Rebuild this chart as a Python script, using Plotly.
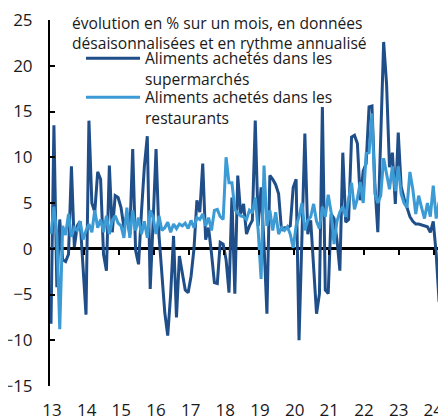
import plotly.graph_objects as go

# --- data (monthly, Jan 2013 -> Mar 2024), % m/m annualised, SA ---
supermarches = [
    -8.2, 13.5, -4.2, 3.2, -1.2, -1.4, -0.6, 9.0, 0.2, 2.5, 3.0, -2.0,      # 2013
    -7.2, 14.0, 5.0, 4.0, 8.4, 7.6, -0.6, -2.4, 9.1, 1.8, 5.8, 5.6,        # 2014
    4.5, 2.3, 3.7, 1.5, 10.9, -0.2, -1.7, 4.0, 9.0, 12.3, -4.4, 3.0,       # 2015
    10.9, 1.5, -3.0, -7.0, -9.5, -5.0, 1.4, -7.5, -0.8, -2.5, -4.5, -4.8,  # 2016
    -3.0, 0.0, 5.3, 4.0, 9.3, 1.0, 2.3, -0.5, -3.7, -3.8, 0.7, 0.5,        # 2017
    -1.2, -4.8, 5.6, -4.9, 8.0, 3.8, 4.9, 1.6, 2.5, 3.1, 14.0, 2.5,        # 2018
    6.7, 0.5, -7.1, 8.0, 7.6, 7.0, 6.0, 2.0, 2.3, 2.3, 2.5, 6.7,           # 2019
    7.6, -10.0, 1.0, 12.6, 1.6, 3.1, -2.0, -7.1, -4.9, 15.5, -4.5, -4.9,   # 2020
    3.8, 3.3, 1.0, -2.4, 10.5, 2.9, 3.2, 12.2, 12.4, 11.5, 5.3, 8.5,       # 2021
    9.3, 15.5, 15.6, 7.0, 1.8, 12.0, 22.6, 18.0, 8.9, 10.5, 4.9, 12.7,     # 2022
    6.8, 5.5, 4.5, 3.5, 3.0, 2.7, 2.7, 2.6, 2.5, 2.4, 1.8, 3.0,            # 2023
    -0.5, -5.8, -2.6,                                                      # 2024
]
restaurants = [
    1.6, 4.6, 1.5, -8.8, 2.5, 1.5, 3.8, 1.3, 2.3, 2.0, 3.0, 1.0,           # 2013
    2.0, 2.7, 1.8, 4.2, 2.3, 3.2, 1.8, 3.6, 1.6, 3.1, 3.6, 2.8,            # 2014
    2.5, 1.2, 4.5, 1.2, 4.2, 2.0, 3.4, 1.6, 3.0, 1.2, 4.2, 3.4,            # 2015
    1.6, 3.6, 2.0, 2.3, 2.9, 1.8, 2.7, 2.2, 2.7, 2.5, 2.8, 2.2,            # 2016
    3.1, 2.3, 3.4, 3.2, 3.8, 2.5, 3.4, 2.0, 4.2, 4.3, 3.5, 3.2,            # 2017
    10.0, 7.2, 7.2, 4.3, 3.9, 3.6, 3.5, 3.2, 4.2, 3.9, 5.6, 2.0,           # 2018
    -3.3, 9.1, 2.5, 4.2, 2.0, 4.0, 1.6, 2.3, 2.0, 2.4, 1.6, 0.1,           # 2019
    2.5, 3.5, 5.0, 2.0, 3.1, 3.5, 4.9, 3.0, 2.2, 4.6, 3.5, 5.9,            # 2020
    4.0, 0.5, 3.0, 4.0, 4.6, 3.5, 5.5, 7.2, 4.3, 5.5, 7.3, 5.0,            # 2021
    10.4, 10.5, 14.8, 6.0, 5.0, 5.8, 9.9, 8.0, 6.5, 9.0, 6.3, 9.0,         # 2022
    6.0, 5.0, 4.5, 8.4, 6.5, 3.8, 5.8, 4.5, 3.3, 5.0, 3.5, 6.9,            # 2023
    3.3, 5.1, 4.0,                                                         # 2024
]
months = list(range(len(supermarches)))
year_labels = ["13", "14", "15", "16", "17", "18", "19", "20", "21", "22", "23", "24"]

DARK = "#1f4e89"
LIGHT = "#3c9ad5"
FONT = "Open Sans"
TXT = "#1a1a1a"

label_pos = [0.34 + 11.88 * k for k in range(len(year_labels))]
tick_pos = [12 * k - 0.7 for k in range(1, len(year_labels))]
x_range = [-0.343, 134.34]

# the page body adds an 8px offset; target positions below are window pixels
OFF = 8
PL, PT, PW, PH = 50, 20, 393, 366   # plot box in window pixels


def px_x(p):
    return (p - PL) / PW


def px_y(p):
    return 1 - (p - PT) / PH


fig = go.Figure()
fig.add_trace(go.Scatter(
    x=months, y=supermarches, mode="lines",
    name="Aliments achetés dans les<br>supermarchés", legend="legend",
    line=dict(color=DARK, width=3), hoverinfo="skip"))
fig.add_trace(go.Scatter(
    x=months, y=restaurants, mode="lines",
    name="Aliments achetés dans les<br>restaurants", legend="legend2",
    line=dict(color=LIGHT, width=3), hoverinfo="skip"))
# helper trace so the tick-mark axis on the zero line is drawn
fig.add_trace(go.Scatter(x=[tick_pos[0]], y=[0], xaxis="x2", mode="markers",
                         marker=dict(opacity=0), showlegend=False, hoverinfo="skip"))

legend_common = dict(
    xanchor="left", yanchor="top", bgcolor="rgba(0,0,0,0)",
    font=dict(size=15.6, family=FONT, color=TXT),
    itemwidth=54, valign="top",
)

W, H = 446, 417
fig.update_layout(
    width=W, height=H,
    margin=dict(l=PL - OFF, r=W - (PL + PW - OFF), t=PT - OFF,
                b=H - (PT + PH - OFF), autoexpand=False),
    paper_bgcolor="white", plot_bgcolor="white",
    font=dict(family=FONT, color=TXT),
    showlegend=True,
    legend=dict(x=px_x(81), y=px_y(41.5), **legend_common),
    legend2=dict(x=px_x(81), y=px_y(80.5), **legend_common),
    xaxis=dict(
        range=x_range, showgrid=False, zeroline=False, showline=False,
        tickmode="array", tickvals=label_pos, ticktext=year_labels,
        ticks="", tickfont=dict(size=17, family=FONT, color=TXT),
        ticklabelstandoff=12, automargin=False, ticklabeloverflow="allow",
    ),
    xaxis2=dict(
        range=x_range, overlaying="x", anchor="free", position=15 / 40,
        side="bottom", showgrid=False, zeroline=False, showline=False,
        tickmode="array", tickvals=tick_pos, ticks="outside", ticklen=5,
        tickwidth=2, tickcolor="black", showticklabels=False, automargin=False,
    ),
    yaxis=dict(
        range=[-15, 25], tickmode="array", tickvals=[-15, -10, -5, 0, 5, 10, 15, 20, 25],
        showgrid=False, showline=True, linecolor="black", linewidth=2,
        ticks="inside", ticklen=5, tickwidth=2, tickcolor="black",
        zeroline=True, zerolinecolor="black", zerolinewidth=3,
        tickfont=dict(size=17, family=FONT, color=TXT),
        ticklabelstandoff=12, automargin=False, ticklabeloverflow="allow",
    ),
    annotations=[dict(
        text="évolution en % sur un mois, en données<br>désaisonnalisées et en rythme annualisé",
        xref="paper", yref="paper", x=px_x(70), y=px_y(10),
        xanchor="left", yanchor="top", align="left", showarrow=False,
        font=dict(size=15.6, family=FONT, color=TXT),
    )],
)

fig.write_html("out.html")
